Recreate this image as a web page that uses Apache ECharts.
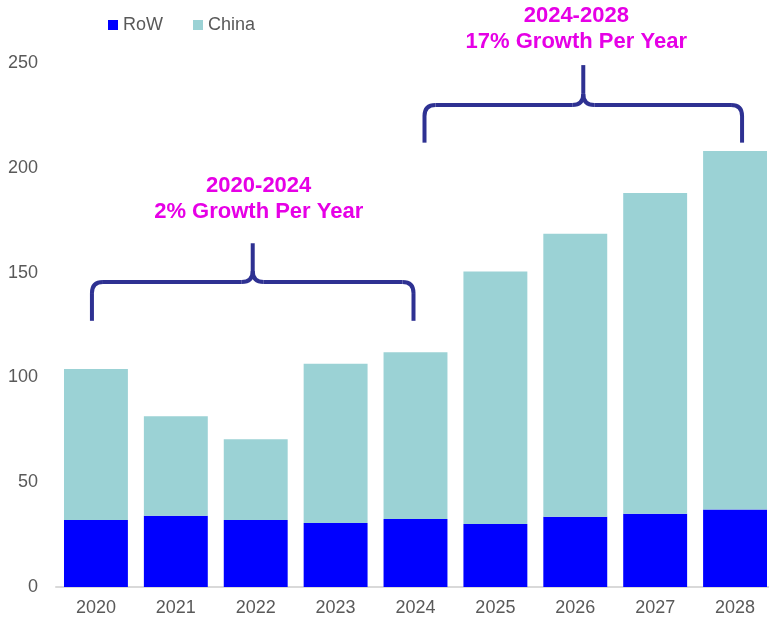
<!DOCTYPE html>
<html><head><meta charset="utf-8">
<script src="https://cdn.jsdelivr.net/npm/echarts@6/dist/echarts.min.js"></script>
<style>html,body{margin:0;padding:0;background:#fff}#c{width:769px;height:622px}</style>
</head><body><div id="c"></div>
<script>
var years = ['2020','2021','2022','2023','2024','2025','2026','2027','2028'];
var row = [32, 34, 32, 30.5, 32.5, 30, 33.5, 35, 37];
var china = [72, 47.5, 38.5, 76, 79.5, 120.5, 135, 153, 171];
var yTicks = [0, 50, 100, 150, 200, 250];
var annotations = [
  {from: '2020', to: '2024', line1: '2020-2024', line2: '2% Growth Per Year', tip: 127, bar: 145.5, spike: 164, dx1: -4, dx2: -2, tdx: 6, tdy: -70},
  {from: '2024', to: '2028', line1: '2024-2028', line2: '17% Growth Per Year', tip: 212, bar: 230, spike: 249, dx1: 9, dx2: 7, tdx: -7, tdy: -62}
];
var font = "'Liberation Sans', Arial, sans-serif";
var chart = echarts.init(document.getElementById('c'));
chart.setOption({
  animation: false,
  textStyle: {fontFamily: font},
  legend: {
    top: 11, left: 103, itemWidth: 10, itemHeight: 10, itemGap: 30,
    icon: 'rect',
    textStyle: {fontSize: 18, color: '#595959', fontFamily: font},
    data: ['RoW', 'China']
  },
  grid: {left: 56, width: 719, top: 63, bottom: 35, outerBoundsMode: 'none', containLabel: false},
  xAxis: {
    type: 'category', data: years,
    axisLine: {lineStyle: {color: '#d9d9d9', width: 2}},
    axisTick: {show: false},
    axisLabel: {fontSize: 18, color: '#595959', margin: 12, fontFamily: font}
  },
  yAxis: {
    type: 'value', min: yTicks[0], max: yTicks[yTicks.length - 1], interval: 50,
    splitLine: {show: false}, axisLine: {show: false}, axisTick: {show: false},
    axisLabel: {fontSize: 18, color: '#595959', margin: 18, fontFamily: font}
  },
  series: [
    {name: 'RoW', type: 'bar', stack: 't', data: row, barCategoryGap: '20%', itemStyle: {color: '#0000ff'}},
    {name: 'China', type: 'bar', stack: 't', data: china, itemStyle: {color: '#9bd2d5'}}
  ]
});
var graphics = [];
var lineStyle = {stroke: '#2e3192', lineWidth: 4, fill: null, lineCap: 'butt'};
function seg(pts) { graphics.push({type: 'polyline', shape: {points: pts}, style: lineStyle}); }
function curve(a, c, b) {
  graphics.push({type: 'bezierCurve', shape: {x1: a[0], y1: a[1], cpx1: c[0], cpy1: c[1], x2: b[0], y2: b[1]}, style: lineStyle});
}
annotations.forEach(function (a) {
  var p1 = chart.convertToPixel({gridIndex: 0}, [a.from, a.tip]);
  var p2 = chart.convertToPixel({gridIndex: 0}, [a.to, a.bar]);
  var p3 = chart.convertToPixel({gridIndex: 0}, [a.to, a.spike]);
  var x1 = p1[0] + a.dx1, x2 = p2[0] + a.dx2, xm = (x1 + x2) / 2;
  var yT = p1[1], yH = p2[1], yS = p3[1], r = 11;
  seg([[x1, yT], [x1, yH + r]]);
  curve([x1, yH + r], [x1, yH], [x1 + r, yH]);
  seg([[x1 + r, yH], [xm - r, yH]]);
  curve([xm - r, yH], [xm, yH], [xm, yH - r]);
  seg([[xm, yH - r], [xm, yS]]);
  curve([xm, yH - r], [xm, yH], [xm + r, yH]);
  seg([[xm + r, yH], [x2 - r, yH]]);
  curve([x2 - r, yH], [x2, yH], [x2, yH + r]);
  seg([[x2, yH + r], [x2, yT]]);
  graphics.push({type: 'text', x: xm + a.tdx, y: yS + a.tdy, style: {text: a.line1 + '\n' + a.line2, fill: '#e600e6', font: 'bold 22px ' + font, align: 'center', verticalAlign: 'top', lineHeight: 26}});
});
chart.setOption({graphic: graphics});
</script></body></html>
